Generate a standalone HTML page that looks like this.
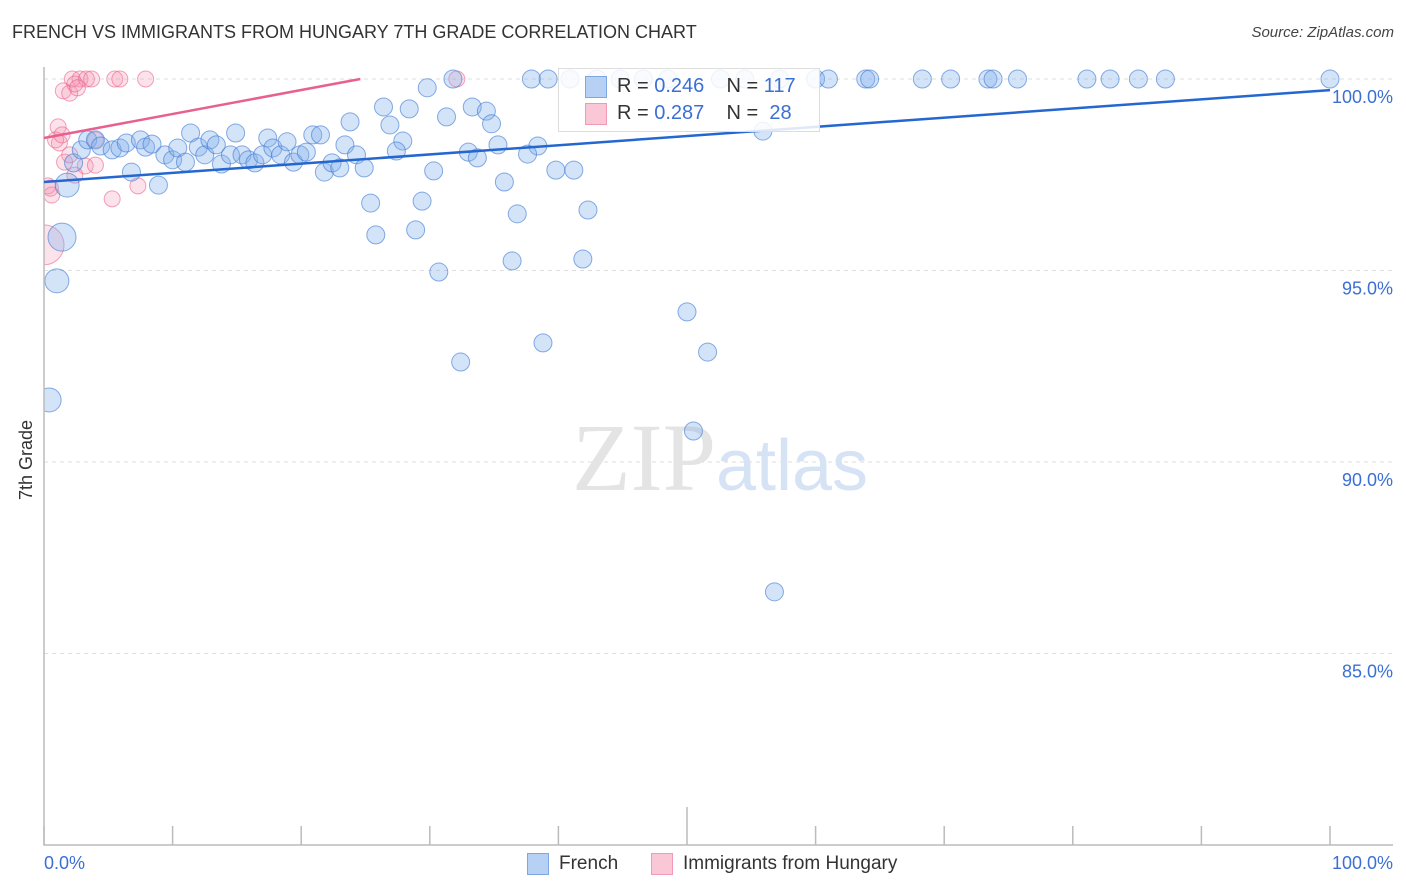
<!DOCTYPE html>
<html><head><meta charset="utf-8"><style>
body{margin:0;background:#fff;font-family:"Liberation Sans",sans-serif;}
#wrap{position:relative;width:1406px;height:892px;overflow:hidden;}
.t{position:absolute;white-space:nowrap;}
</style></head><body><div id="wrap">
<div class="t" style="left:12px;top:22px;font-size:18px;color:#333;">FRENCH VS IMMIGRANTS FROM HUNGARY 7TH GRADE CORRELATION CHART</div>
<div class="t" style="right:12px;top:24px;font-size:15px;color:#444;font-style:italic;">Source: ZipAtlas.com</div>
<div class="t" style="left:16px;top:500px;font-size:18px;color:#333;transform:rotate(-90deg);transform-origin:0 0;">7th Grade</div>
<svg id="svg" width="1406" height="892" style="position:absolute;left:0;top:0"><defs><clipPath id="cp"><rect x="44" y="40" width="1362" height="805"/></clipPath></defs><g id="pts" clip-path="url(#cp)"></g></svg>
</div>
<script>
const xB=[37.9,39.2,40.9,43.0,44.8,46.6,48.5,52.6,54.5,57.2,60.0,61.0,63.9,64.2,68.3,70.5,73.4,73.8,75.7,81.1,82.9,85.1,87.2,100,31.8,29.8,26.4,28.4,31.3,33.3,34.4,34.8,23.8,26.9,27.9,27.4,33.0,33.7,35.3,38.4,37.6,55.9,1.4,1.0,0.4,1.8,2.3,2.9,3.4,4.0,4.4,5.3,5.9,6.4,7.5,7.9,8.4,6.8,8.9,9.4,10.0,10.4,11.0,11.4,12.0,12.5,12.9,13.4,13.8,14.5,14.9,15.4,15.9,16.4,17.0,17.4,17.8,18.4,18.9,19.4,19.9,20.4,20.9,21.5,21.8,22.4,23.0,23.4,24.3,24.9,25.4,25.8,28.9,29.4,30.3,30.7,32.4,35.8,36.4,36.8,38.8,39.8,41.2,41.9,42.3,50.0,51.6,50.5,56.8];
const yB=[100,100,100,100,100,100,100,100,100,100,100,100,100,100,100,100,100,100,100,100,100,100,100,100,100,99.77,99.27,99.22,99.01,99.27,99.16,98.83,98.88,98.80,98.38,98.12,98.09,97.94,98.28,98.25,98.04,98.64,95.87,94.73,91.62,97.23,97.81,98.15,98.41,98.41,98.25,98.15,98.20,98.33,98.41,98.22,98.30,97.57,97.23,98.02,97.89,98.20,97.83,98.59,98.22,98.02,98.41,98.28,97.78,98.02,98.59,98.02,97.89,97.81,98.02,98.46,98.20,98.02,98.36,97.83,98.02,98.09,98.54,98.54,97.57,97.81,97.68,98.28,98.02,97.68,96.76,95.93,96.06,96.81,97.60,94.96,92.61,97.31,95.25,96.48,93.11,97.62,97.62,95.30,96.58,93.92,92.87,90.81,86.61];
const rBig={42:14,43:12,44:12,45:12};
const xP=[2.2,2.8,3.3,3.7,5.5,5.9,7.9,32.1,1.5,2.0,2.4,2.6,1.1,1.2,0.9,1.4,1.6,2.0,3.2,4.0,0.3,0.6,7.3,5.3,0,0.5,4.0,2.4];
const yP=[100,100,100,100,100,100,100,100,99.69,99.63,99.87,99.77,98.75,98.33,98.41,98.54,97.83,98.02,97.73,97.75,97.21,96.97,97.21,96.87,95.67,97.15,98.41,97.49];
const lineB=[97.31,99.71];
const lineP=[98.46,100.0,24.6];
const yTicks=[100,95,90,85];
const yTickLabels=["100.0%","95.0%","90.0%","85.0%"];
const xTicks=[0,10,20,30,40,50,60,70,80,90,100];

const NS="http://www.w3.org/2000/svg";
const svg=document.getElementById('svg');
const pts=document.getElementById('pts');
const X=v=>44+v*12.86, Y=v=>79+(100-v)*38.3;
function el(tag,a,p){const e=document.createElementNS(NS,tag);for(const k in a)e.setAttribute(k,a[k]);(p||svg).appendChild(e);return e;}
yTicks.forEach((t,i)=>{
 const g=el('line',{x1:44,x2:1393,y1:Y(t),y2:Y(t),stroke:'#ddd','stroke-dasharray':'4,4'});
 
 
 const tx=el('text',{x:1393,y:Y(t)+24,'text-anchor':'end','font-size':18,fill:'#3b6fd4','font-family':'Liberation Sans'});
 tx.textContent=yTickLabels[i];
 
 
});
const wm=el('text',{x:720,y:490,'text-anchor':'middle','font-size':96,fill:'#e4e4e4','font-family':'Liberation Serif'});
wm.innerHTML='ZIP<tspan fill="#d5e3f5" font-family="Liberation Sans" font-size="72">atlas</tspan>';


svg.appendChild(pts);
const ax=el('path',{d:'M44,67V845H1393',stroke:'#bbb',fill:'none','stroke-width':1.5});


xTicks.forEach(t=>{const l=el('line',{x1:X(t),x2:X(t),y1:t==50?807:826,y2:845,stroke:'#bbb','stroke-width':1.5});
 
 });
xP.forEach((x,i)=>{const c=el('circle',{cx:X(x),cy:Y(yP[i]),r:i==24?20:8,fill:'rgba(244,143,177,0.25)',stroke:'rgba(236,100,140,0.6)','stroke-width':1},pts);
 
 });
xB.forEach((x,i)=>{const c=el('circle',{cx:X(x),cy:Y(yB[i]),r:rBig[i]||9,fill:'rgba(130,175,235,0.35)',stroke:'rgba(60,120,210,0.6)','stroke-width':1},pts);
 
 });
const lb=el('line',{x1:X(0),y1:Y(lineB[0]),x2:X(100),y2:Y(lineB[1]),stroke:'#2467d0','stroke-width':2.5});


const lp=el('line',{x1:X(0),y1:Y(lineP[0]),x2:X(lineP[2]),y2:Y(lineP[1]),stroke:'#e8608f','stroke-width':2.5});


</script>
<div class="t" style="left:558px;top:68px;width:260px;height:62px;border:1px solid #ddd;background:rgba(255,255,255,0.85);">
 <div class="t" style="left:26px;top:7px;width:20px;height:20px;background:#b6d1f3;border:1px solid #7ea6e0;"></div>
 <div class="t" style="left:58px;top:6px;font-size:20px;color:#333;">R = <span style="color:#3b6fd4">0.246</span>&nbsp;&nbsp;&nbsp; N = <span style="color:#3b6fd4">117</span></div>
 <div class="t" style="left:26px;top:34px;width:20px;height:20px;background:#fac7d6;border:1px solid #f09ab5;"></div>
 <div class="t" style="left:58px;top:33px;font-size:20px;color:#333;">R = <span style="color:#3b6fd4">0.287</span>&nbsp;&nbsp;&nbsp; N = &nbsp;<span style="color:#3b6fd4">28</span></div>
</div>
<div class="t" style="left:44px;top:853px;font-size:18px;color:#3b6fd4;">0.0%</div>
<div class="t" style="right:13px;top:853px;font-size:18px;color:#3b6fd4;">100.0%</div>
<div class="t" style="left:527px;top:853px;width:20px;height:20px;background:#b6d1f3;border:1px solid #7ea6e0;"></div>
<div class="t" style="left:559px;top:853px;font-size:19px;color:#333;">French</div>
<div class="t" style="left:651px;top:853px;width:20px;height:20px;background:#fac7d6;border:1px solid #f09ab5;"></div>
<div class="t" style="left:683px;top:853px;font-size:19px;color:#333;">Immigrants from Hungary</div>
</body></html>
